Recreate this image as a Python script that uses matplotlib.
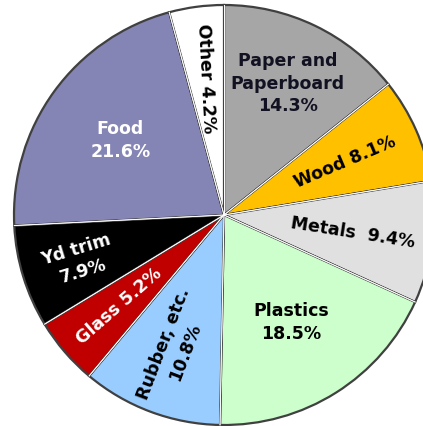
import numpy as np
import matplotlib.pyplot as plt

# MSW composition (percent)
labels = ['Paper and\nPaperboard\n14.3%', 'Wood 8.1%', 'Metals  9.4%', 'Plastics\n18.5%',
          'Rubber, etc.\n10.8%', 'Glass 5.2%', 'Yd trim\n7.9%', 'Food\n21.6%', 'Other 4.2%']
shares = [14.3, 8.1, 9.4, 18.5, 10.8, 5.2, 7.9, 21.6, 4.2]
colors = ['#a6a6a6', '#ffc000', '#e0e0e0', '#ccffcc', '#99ccff', '#c00000', '#000000', '#8585b5', '#ffffff']
text_colors = ['#111122', '#000000', '#000000', '#000000', '#000000', '#ffffff', '#ffffff', '#ffffff', '#000000']

# label placement (fraction of radius) and rotation
label_r = [0.70, 0.63, 0.62, 0.60, 0.67, 0.66, 0.72, 0.61, 0.66]
label_rot = [0, 23, -9, 0, 69, 41, 17, 0, -87]

R = 210
fig = plt.figure(figsize=(4.23, 4.27), dpi=100)
ax = fig.add_axes([0, 0, 1, 1])
wedges, _ = ax.pie(shares, colors=colors, startangle=90, counterclock=False, radius=R,
                   wedgeprops=dict(edgecolor='#404040', linewidth=1.6))

# white gap inside the slice borders
for w in wedges:
    for ang in (w.theta1, w.theta2):
        a = np.deg2rad(ang)
        ax.plot([0, R * np.cos(a)], [0, R * np.sin(a)], color='white', lw=0.6, zorder=3)

for w, lab, rr, rot, tc in zip(wedges, labels, label_r, label_rot, text_colors):
    mid = np.deg2rad((w.theta1 + w.theta2) / 2)
    ax.text(rr * R * np.cos(mid), rr * R * np.sin(mid), lab, ha='center', va='center',
            rotation=rot, rotation_mode='anchor', fontsize=12.5, fontweight='bold',
            color=tc, linespacing=1.35, zorder=4)

ax.set_xlim(-224, 199)
ax.set_ylim(-211, 216)
ax.set_aspect('equal')
ax.axis('off')
fig.savefig('out.png', dpi=100)
